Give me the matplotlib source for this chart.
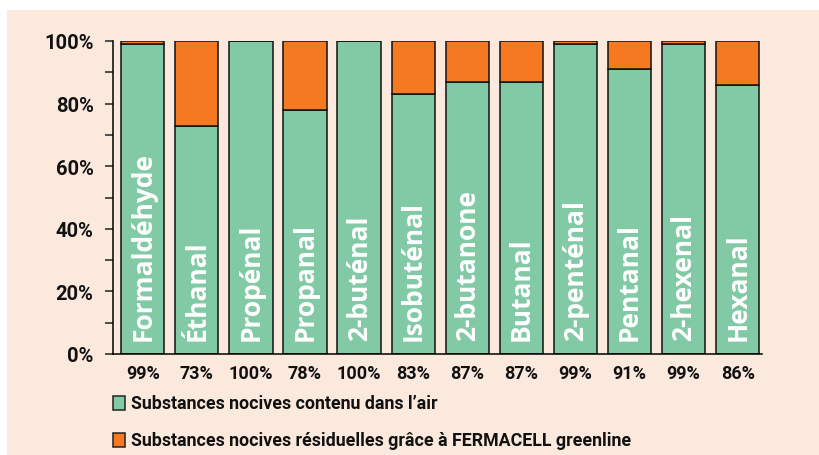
import matplotlib.pyplot as plt
from matplotlib.patches import Rectangle

substances = ["Formaldéhyde", "Éthanal", "Propénal", "Propanal", "2-buténal", "Isobuténal",
              "2-butanone", "Butanal", "2-penténal", "Pentanal", "2-hexenal", "Hexanal"]
air = [99, 73, 100, 78, 100, 83, 87, 87, 99, 91, 99, 86]
residual = [100 - v for v in air]
legend_labels = ["Substances nocives contenu dans l\u2019air",
                 "Substances nocives résiduelles grâce à FERMACELL greenline"]

green = "#82caa5"
orange = "#f47920"
bg = "#fce9dd"
narrow = ["Roboto", "DejaVu Sans"]

fig = plt.figure(figsize=(8.2, 4.56), dpi=100, facecolor="white")
fig.patches.append(Rectangle((7 / 820, 0), 1, 1 - 11 / 456, transform=fig.transFigure,
                             facecolor=bg, edgecolor="none", zorder=-10))

ax = fig.add_axes([113 / 820, 1 - 355 / 456, (762 - 113) / 820, (355 - 42) / 456])
ax.set_facecolor("none")

x = range(len(substances))
ax.bar(x, air, width=0.8, color=green, edgecolor="#111111", linewidth=1.1)
ax.bar(x, residual, bottom=air, width=0.8, color=orange, edgecolor="#111111", linewidth=1.1)

ax.set_xlim(-0.55, 11.45)
ax.set_ylim(0, 100)
ax.set_yticks(range(0, 101, 20))
ax.set_yticks(range(10, 100, 20), minor=True)
ax.set_yticklabels([f"{v}%" for v in range(0, 101, 20)], fontsize=14.5, fontweight="bold",
                   family=narrow, color="#111111")
ax.tick_params(axis="y", which="both", length=6, width=1.1, direction="out", pad=8, color="#222222")
ax.set_xticks([])
for s in ["top", "right"]:
    ax.spines[s].set_visible(False)
ax.spines["left"].set_linewidth(1.1)
ax.spines["bottom"].set_linewidth(1.1)

for i, (name, v) in enumerate(zip(substances, air)):
    ax.text(i, 4.5, name, rotation=90, ha="center", va="bottom", color="white",
            fontsize=19, fontweight="bold", family=["Open Sans", "DejaVu Sans"])
    ax.text(i, -6, f"{v}%", ha="center", va="center", fontsize=13, fontweight="bold",
            family=narrow, color="#111111", clip_on=False)

for (y0, col, lab) in [(411, green, legend_labels[0]), (448, orange, legend_labels[1])]:
    fig.patches.append(Rectangle((113 / 820, 1 - y0 / 456), 12 / 820, 14 / 456,
                                 transform=fig.transFigure, facecolor=col,
                                 edgecolor="#222222", linewidth=1.1))
    fig.text(131 / 820, 1 - (y0 - 7) / 456, lab, ha="left", va="center", fontsize=12.8,
             fontweight="bold", family=narrow, color="#111111")

fig.savefig("out.png", dpi=100, facecolor=fig.get_facecolor())
